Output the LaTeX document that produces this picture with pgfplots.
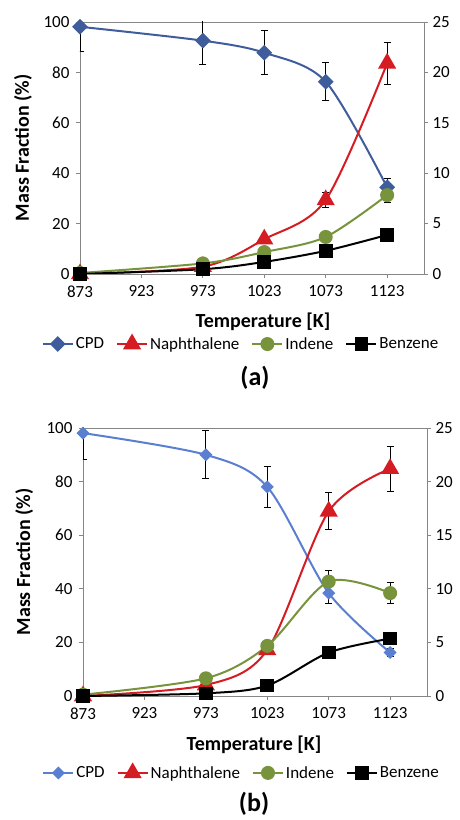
\documentclass[border=0pt]{standalone}
\usepackage{fontspec}
\setmainfont{Carlito}
\usepackage{pgfplots}
\pgfplotsset{compat=1.18}

\definecolor{cpda}{HTML}{3F5D9C}
\definecolor{cpdb}{HTML}{5B7FD0}
\definecolor{naph}{HTML}{D41C22}
\definecolor{inde}{HTML}{77933C}
\definecolor{axgray}{HTML}{868686}

\pgfplotsset{
  common/.style={
    scale only axis, width=344pt, xmin=873, xmax=1153,
    tick align=outside, major tick length=4pt,
    axis line style={axgray, line width=0.9pt},
    tick style={axgray, line width=0.9pt},
    tick label style={font=\fontsize{17}{20}\selectfont, black},
    /pgf/number format/assume math mode=true,
    /pgf/number format/1000 sep={},
  },
  panel/.style={
    common, ymin=0, ymax=100,
    xtick={873,923,973,1023,1073,1123}, ytick={0,20,...,100},
    tick pos=left,
    xticklabel style={yshift=-4pt},
    yticklabel style={xshift=-3pt},
    label style={font=\bfseries\fontsize{20}{24}\selectfont},
    ylabel={Mass Fraction (\%)},
    xlabel={Temperature [K]},
    legend columns=4,
    legend style={draw=none, fill=none, font=\fontsize{17}{20}\selectfont,
      anchor=center, inner sep=0pt,
      /tikz/every even column/.append style={column sep=10pt}},
    legend image code/.code={\draw[mark repeat=2,mark phase=2]
      plot coordinates {(0pt,0pt) (15pt,0pt) (30pt,0pt)};},
    every axis plot/.append style={line width=2pt, smooth},
    error bars/y dir=both, error bars/y explicit,
    error bars/error bar style={black, line width=0.9pt, solid},
    error bars/error mark options={black, line width=0.9pt, mark size=3.6pt, rotate=90},
  },
  rightax/.style={
    common, ymin=0, ymax=25, ytick={0,5,...,25},
    axis y line*=right, hide x axis,
    yticklabel style={xshift=1pt},
  },
}

\begin{document}
\begin{tikzpicture}
\useasboundingbox (0pt,0pt) rectangle (460pt,820pt);

% ---- panel (a)
\begin{axis}[panel, at={(80pt,546pt)}, anchor=south west, height=252pt,
  xlabel style={at={(axis description cs:0.532,-0.19)}, anchor=center},
  ylabel style={at={(axis description cs:-0.166,0.5)}, anchor=center},
  legend style={at={(axis description cs:0.468,-0.278)}}]
\addplot[cpda, mark=square*, mark options={rotate=45, mark size=4.6pt, solid}]
  coordinates {(873,98.1) +- (0,9.8) (973,92.6) +- (0,9.3) (1023,87.8) +- (0,8.8)
               (1073,76.3) +- (0,7.6) (1123,34.4) +- (0,3.4)};
\addlegendentry{CPD}
\addplot[naph, mark=triangle*, mark options={mark size=8.5pt, solid}]
  coordinates {(873,0) +- (0,0) (973,2.9) +- (0,0.3) (1023,13.8) +- (0,1.4)
               (1073,29.4) +- (0,2.9) (1123,83.6) +- (0,8.4)};
\addlegendentry{Naphthalene}
\addplot[inde, mark=*, mark options={mark size=6pt, solid}]
  coordinates {(873,0.4) +- (0,0) (973,4.2) +- (0,0.4) (1023,8.7) +- (0,0.9)
               (1073,14.7) +- (0,1.5) (1123,31.3) +- (0,3.1)};
\addlegendentry{Indene}
\addplot[black, mark=square*, mark options={mark size=5.8pt, solid}]
  coordinates {(873,0) +- (0,0) (973,1.9) +- (0,0.2) (1023,4.8) +- (0,0.5)
               (1073,9.2) +- (0,0.9) (1123,15.5) +- (0,1.5)};
\addlegendentry{Benzene}
\end{axis}
\begin{axis}[rightax, at={(80pt,546pt)}, anchor=south west, height=252pt]
\end{axis}
\node[font=\bfseries\fontsize{26}{30}\selectfont] at (255pt,442pt) {(a)};

% ---- panel (b)
\begin{axis}[panel, at={(83pt,124pt)}, anchor=south west, height=268pt,
  xlabel style={at={(axis description cs:0.497,-0.183)}, anchor=center},
  ylabel style={at={(axis description cs:-0.171,0.5)}, anchor=center},
  legend style={at={(axis description cs:0.461,-0.287)}}]
\addplot[cpdb, mark=square*, mark options={rotate=45, mark size=3.6pt, solid}]
  coordinates {(873,98.1) +- (0,9.8) (973,90.0) +- (0,9.0) (1023,78.0) +- (0,7.8)
               (1073,38.4) +- (0,3.8) (1123,16.2) +- (0,1.6)};
\addlegendentry{CPD}
\addplot[naph, mark=triangle*, mark options={mark size=8.5pt, solid}]
  coordinates {(873,0) +- (0,0) (973,4.1) +- (0,0.4) (1023,17.2) +- (0,1.7)
               (1073,68.9) +- (0,6.9) (1123,84.8) +- (0,8.5)};
\addlegendentry{Naphthalene}
\addplot[inde, mark=*, mark options={mark size=6pt, solid}]
  coordinates {(873,0.5) +- (0,0) (973,6.6) +- (0,0.7) (1023,18.7) +- (0,1.9)
               (1073,42.7) +- (0,4.2) (1123,38.4) +- (0,3.8)};
\addlegendentry{Indene}
\addplot[black, mark=square*, mark options={mark size=5.8pt, solid}]
  coordinates {(873,0) +- (0,0) (973,1.0) +- (0,0.1) (1023,3.9) +- (0,0.4)
               (1073,16.2) +- (0,1.6) (1123,21.4) +- (0,2.1)};
\addlegendentry{Benzene}
\end{axis}
\begin{axis}[rightax, at={(83pt,124pt)}, anchor=south west, height=268pt]
\end{axis}
\node[font=\bfseries\fontsize{26}{30}\selectfont] at (254pt,16pt) {(b)};
\end{tikzpicture}
\end{document}
